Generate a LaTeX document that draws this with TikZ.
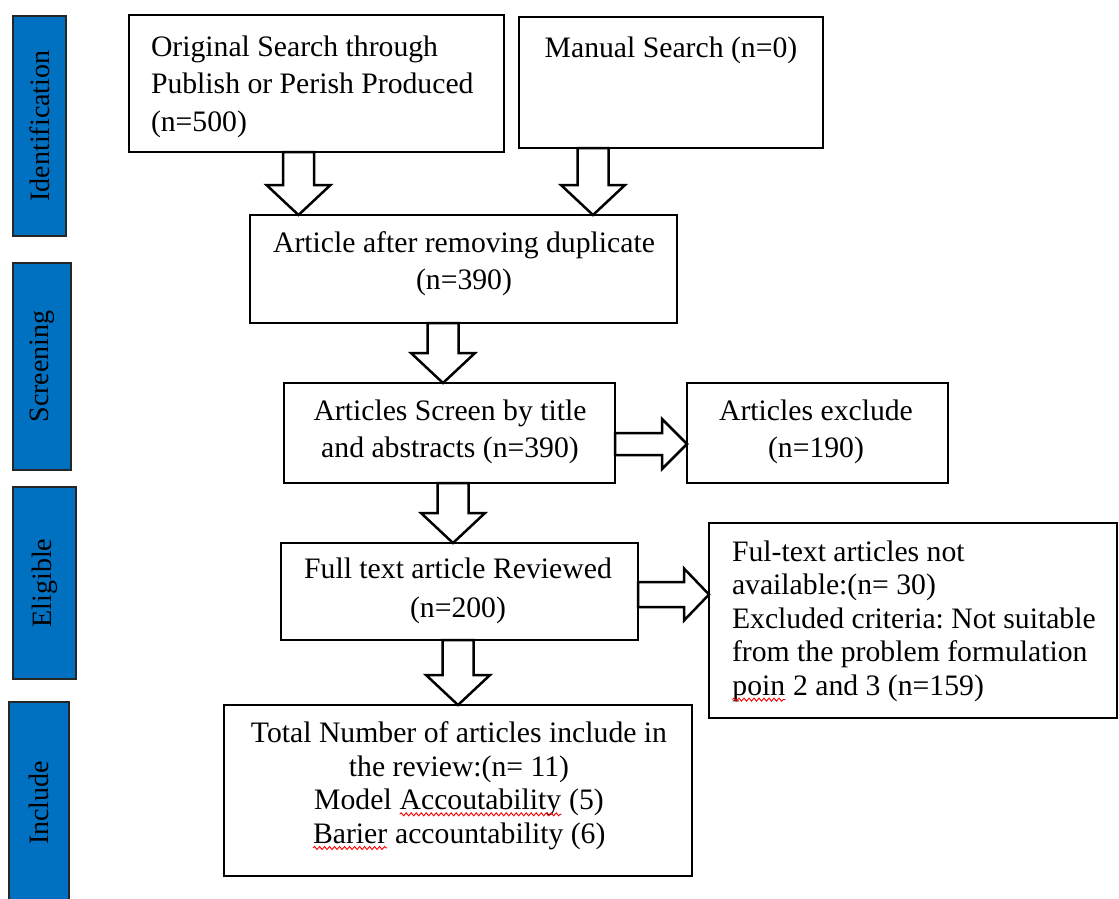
\documentclass[tikz,border=0pt]{standalone}
\usepackage{fontspec}
\setmainfont{Liberation Serif}
\usetikzlibrary{calc,decorations.pathmorphing}
\definecolor{barblue}{RGB}{0,112,192}
\frenchspacing
\newcommand\spellerr[1]{\tikz[baseline=(sw.base)]{\node[inner sep=0pt, outer sep=0pt] (sw) {#1};
  \draw[red, line width=0.9pt, decorate, decoration={snake, amplitude=1.5pt, segment length=5pt}]
    ([yshift=-4.5pt]sw.base west) -- ([yshift=-4.5pt]sw.base east);}}
\newcommand\dnarrow[3]{%
  \draw[barrow] let \p1=(#1.south), \p2=(#2.north) in
    ({#3pt-15.5pt},{\y1}) -- ({#3pt+15.5pt},{\y1}) -- ({#3pt+15.5pt},{\y2+30pt})
    -- ({#3pt+32pt},{\y2+30pt}) -- ({#3pt},{\y2}) -- ({#3pt-32pt},{\y2+30pt})
    -- ({#3pt-15.5pt},{\y2+30pt}) -- cycle;}
\newcommand\rtarrow[5]{%
  \draw[barrow] let \p1=(#1.east), \p2=(#2.west) in
    ({\x1},{-#3pt+#4pt}) -- ({\x2-25pt},{-#3pt+#4pt}) -- ({\x2-25pt},{-#3pt+#5pt})
    -- ({\x2},{-#3pt}) -- ({\x2-25pt},{-#3pt-#5pt}) -- ({\x2-25pt},{-#3pt-#4pt})
    -- ({\x1},{-#3pt-#4pt}) -- cycle;}
\tikzset{
  box/.style={draw, line width=2.8pt, inner sep=0pt, outer sep=0pt},
  txt/.style={inner sep=0pt, outer sep=0pt},
  bar/.style={draw=black!85, line width=1.3pt, fill=barblue, inner sep=0pt, outer sep=0pt},
  bartxt/.style={rotate=90, inner sep=0pt, font=\fontsize{28}{32}\selectfont},
  barrow/.style={draw, line width=2.5pt, fill=white, line join=miter},
}
\begin{document}
\begin{tikzpicture}[x=1pt, y=-1pt]
\useasboundingbox (0,0) rectangle (1119,899);

% side bars
\node[bar, minimum width=53pt, minimum height=220pt] (s1) at (39.5,126) {};
\node[bar, minimum width=58pt, minimum height=207pt] (s2) at (42,366.5) {};
\node[bar, minimum width=63pt, minimum height=192pt] (s3) at (44.5,583) {};
\node[bar, minimum width=60pt, minimum height=202pt] (s4) at (39,803) {};
\node[bartxt] (l1) at (s1) {Identification};
\node[bartxt] (l2) at (s2) {Screening};
\node[bartxt] (l3) at (s3) {Eligible};
\node[bartxt] (l4) at (s4) {Include};

% boxes
\node[box, minimum width=375pt, minimum height=137pt] (b1) at (316.5,83.5) {};
\node[box, minimum width=304pt, minimum height=131pt] (b2) at (671,82.5) {};
\node[box, minimum width=427pt, minimum height=108pt] (b3) at (463.5,269) {};
\node[box, minimum width=331pt, minimum height=100pt] (b4) at (449.5,433) {};
\node[box, minimum width=261pt, minimum height=100pt] (b5) at (817.5,433) {};
\node[box, minimum width=357pt, minimum height=97pt] (b6) at (459.5,591.5) {};
\node[box, minimum width=408pt, minimum height=195pt] (b7) at (913,620.5) {};
\node[box, minimum width=468pt, minimum height=171pt] (b8) at (458,790.5) {};

% texts
\node[txt, anchor=north west, align=left, font=\fontsize{29.7}{37.5}\selectfont] (t1) at (151,35.5)
  {Original Search through\\Publish or Perish Produced\\(n=500)};
\node[txt, anchor=north, font=\fontsize{29.7}{37}\selectfont] (t2) at (671,36.5) {Manual Search (n=0)};
\node[txt, anchor=north, align=center, font=\fontsize{29.7}{37}\selectfont] (t3) at (464,232)
  {Article after removing duplicate\\(n=390)};
\node[txt, anchor=north, align=center, font=\fontsize{29.7}{37}\selectfont] (t4) at (450,400)
  {Articles Screen by title\\and abstracts (n=390)};
\node[txt, anchor=north, align=center, font=\fontsize{29.7}{37}\selectfont] (t5) at (816,400)
  {Articles exclude\\(n=190)};
\node[txt, anchor=north, align=center, font=\fontsize{29.7}{39}\selectfont] (t6) at (458,558)
  {Full text article Reviewed\\(n=200)};
\node[txt, anchor=north west, align=left, font=\fontsize{29.7}{33.5}\selectfont] (t7) at (732,540.5)
  {Ful-text articles not\\available:(n= 30)\\Excluded criteria: Not suitable\\from the problem formulation\\\spellerr{poin} 2 and 3 (n=159)};
\node[txt, anchor=north, align=center, font=\fontsize{29.7}{33.7}\selectfont] (t8) at (459,721.5)
  {Total Number of articles include in\\the review:(n= 11)\\Model \spellerr{Accoutability} (5)\\\spellerr{Barier} accountability (6)};

% block arrows
\dnarrow{b1}{b3}{298.5}
\dnarrow{b2}{b3}{593}
\dnarrow{b3}{b4}{443}
\dnarrow{b4}{b6}{453}
\dnarrow{b6}{b8}{458}
\rtarrow{b4}{b5}{444}{11}{25}
\rtarrow{b6}{b7}{594.5}{12.5}{26}
\end{tikzpicture}
\end{document}
